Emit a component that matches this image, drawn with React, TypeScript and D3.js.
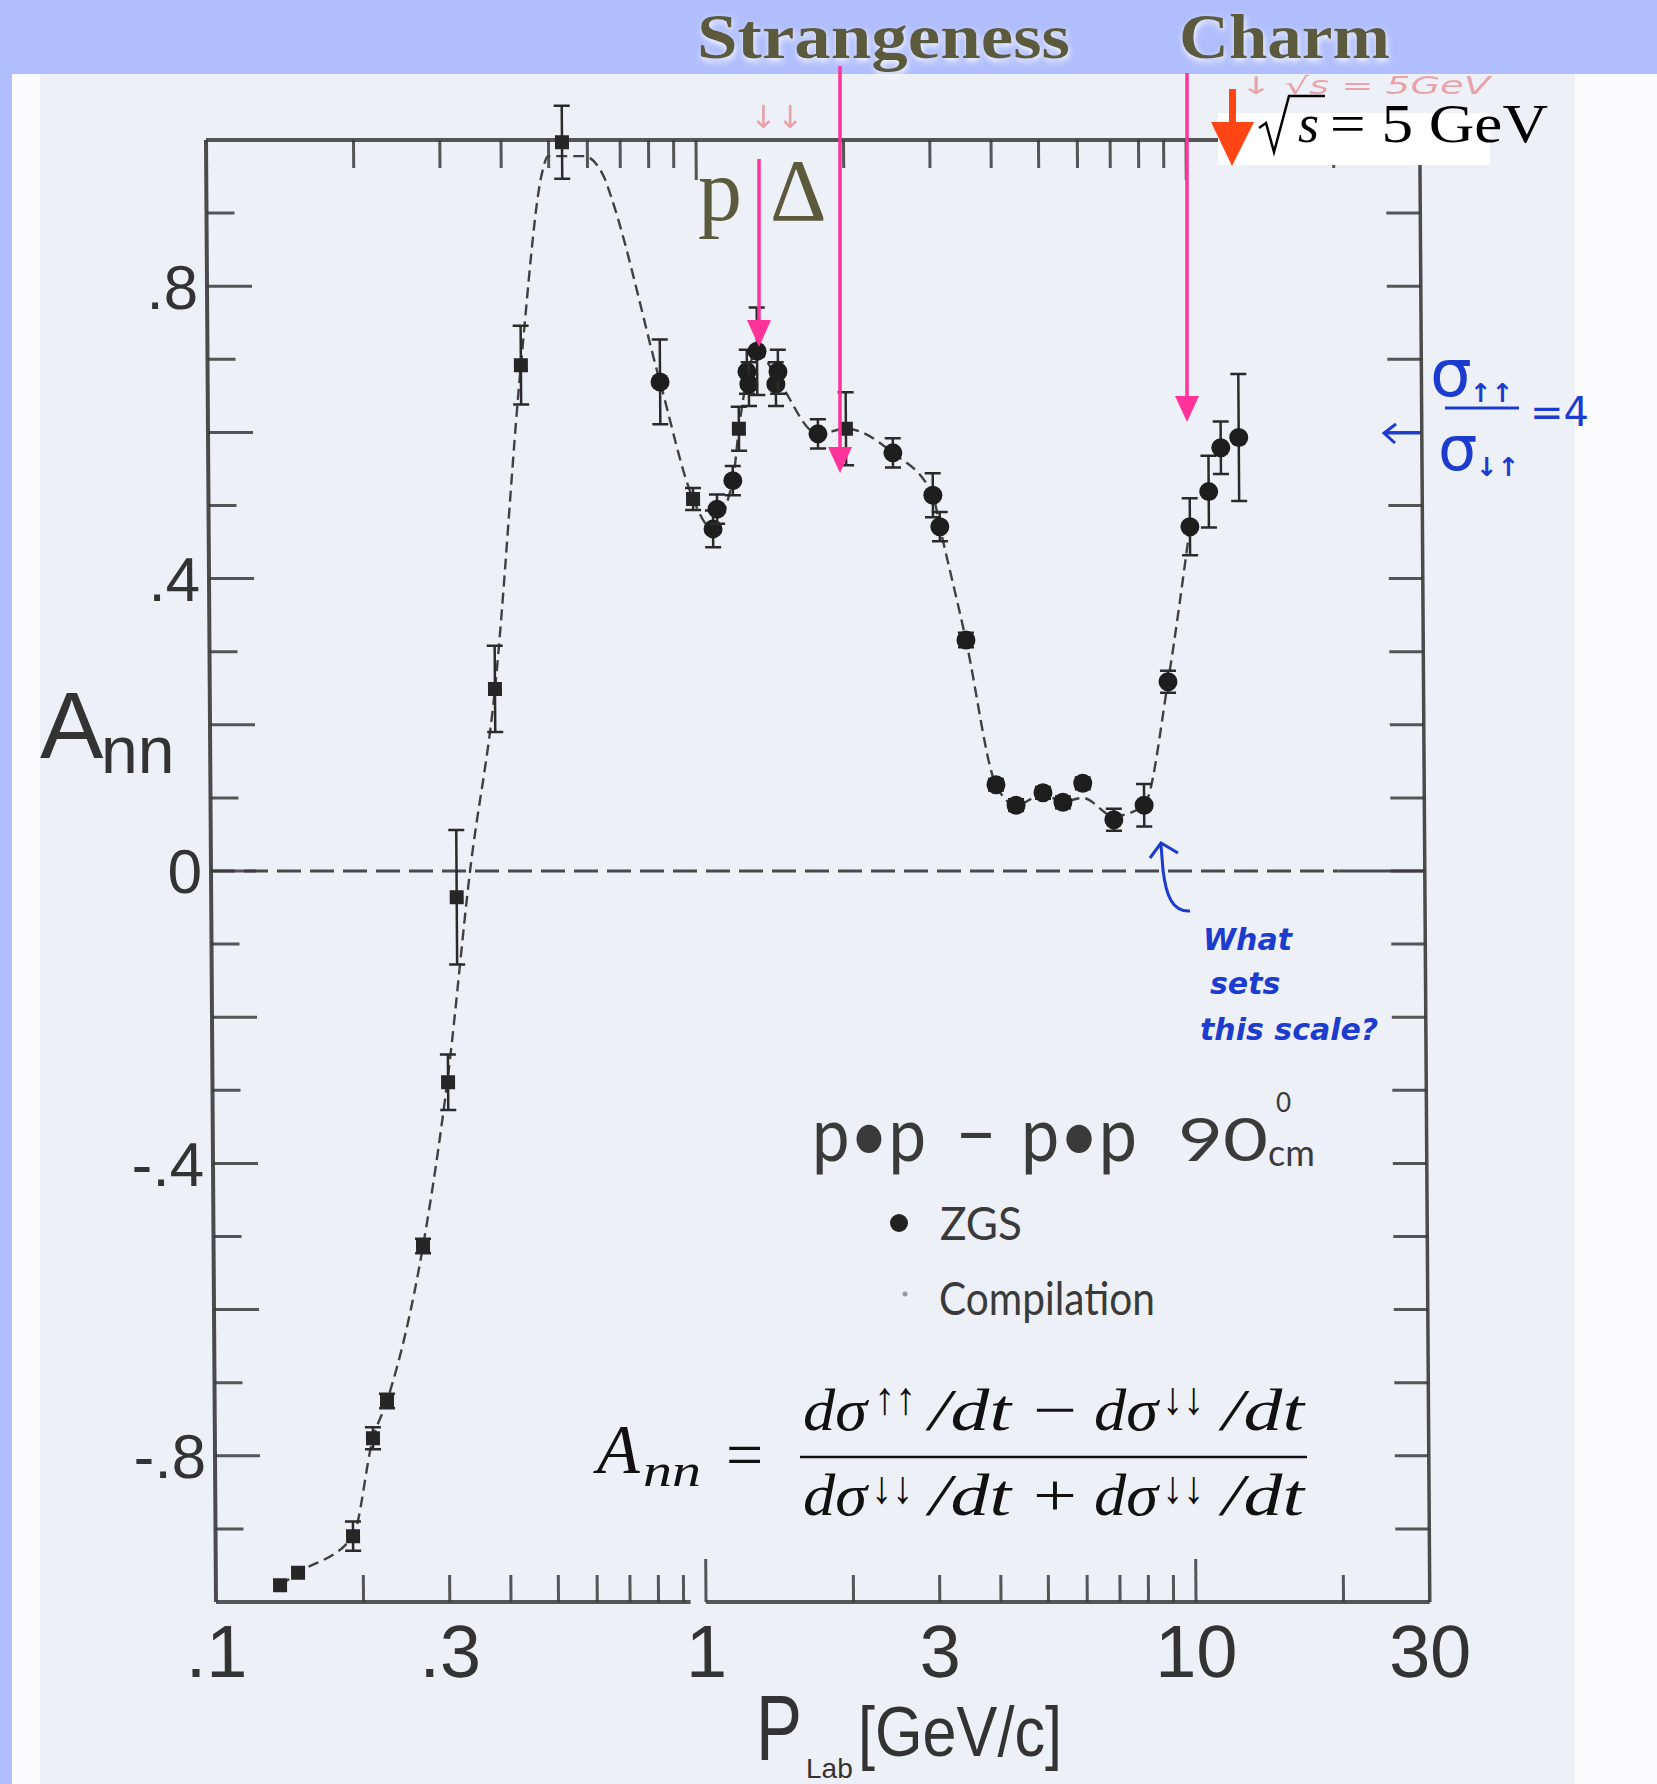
import React from "react";
import * as d3 from "d3";

// ---------------- data ----------------
// ZGS (filled circles): P_lab [GeV/c], A_nn, error
const zgsP = [0.838, 1.07, 1.091, 1.176, 1.261, 1.272, 1.323, 1.444, 1.459, 1.757, 2.497, 3.009, 3.106, 3.499, 4.01, 4.405, 5.0, 5.49, 6.03, 6.97, 8.04, 9.03, 10.06, 11.0, 11.66, 12.69];
const zgsA = [0.669, 0.468, 0.495, 0.534, 0.683, 0.666, 0.711, 0.666, 0.683, 0.598, 0.572, 0.514, 0.471, 0.316, 0.118, 0.09, 0.107, 0.094, 0.12, 0.07, 0.09, 0.259, 0.471, 0.519, 0.579, 0.593];
const zgsErr = [0.058, 0.025, 0.02, 0.02, 0.03, 0.03, 0.06, 0.03, 0.03, 0.02, 0.02, 0.03, 0.02, 0.01, 0.008, 0.008, 0.008, 0.008, 0.008, 0.015, 0.029, 0.015, 0.039, 0.049, 0.036, 0.087];

// Compilation (small squares)
const compP = [0.1352, 0.1472, 0.1908, 0.2102, 0.2248, 0.2676, 0.3026, 0.317, 0.382, 0.436, 0.5327, 0.975, 1.212, 2.004];
const compA = [-0.977, -0.96, -0.91, -0.776, -0.725, -0.513, -0.289, -0.036, 0.249, 0.692, 0.997, 0.509, 0.605, 0.605];
const compErr = [0, 0, 0.02, 0.015, 0.01, 0.01, 0.038, 0.092, 0.059, 0.054, 0.05, 0.015, 0.03, 0.05];

// dashed guide curve
const curveP = [0.1352, 0.1472, 0.1908, 0.2102, 0.2248, 0.2676, 0.3026, 0.3378, 0.382, 0.436, 0.485, 0.4987, 0.5905, 0.6486, 0.67, 0.838, 0.975, 1.06, 1.176, 1.212, 1.323, 1.45, 1.757, 2.004, 2.497, 3.009, 3.106, 3.499, 4.01, 4.405, 5.0, 5.49, 6.03, 6.97, 8.04, 9.03, 10.06];
const curveA = [-0.977, -0.96, -0.91, -0.776, -0.725, -0.513, -0.28, 0.0, 0.249, 0.692, 0.956, 0.978, 0.978, 0.949, 0.922, 0.669, 0.509, 0.47, 0.534, 0.605, 0.711, 0.675, 0.598, 0.605, 0.572, 0.514, 0.471, 0.316, 0.118, 0.09, 0.105, 0.095, 0.1, 0.075, 0.09, 0.259, 0.471];

const yTickVals = [-0.9, -0.8, -0.7, -0.6, -0.5, -0.4, -0.3, -0.2, -0.1, 0, 0.1, 0.2, 0.3, 0.4, 0.5, 0.6, 0.7, 0.8, 0.9];
const yLabelVals = [0.8, 0.4, 0, -0.4, -0.8];
const yLabelText = [".8", ".4", "0", "-.4", "-.8"];
const xMinorVals = [0.2, 0.3, 0.4, 0.5, 0.6, 0.7, 0.8, 0.9, 2, 3, 4, 5, 6, 7, 8, 9, 20];
const xMajorVals = [1, 10];
const xLabelVals = [0.1, 0.3, 1, 3, 10, 30];
const xLabelText = [".1", ".3", "1", "3", "10", "30"];

// ---------------- layout ----------------
const W = 1657;
const H = 1784;
const OX = 206;
const OY = 140;
const PH = 1462;
const DEC = 490;
const skewDeg = (Math.atan(10 / PH) * 180) / Math.PI;

const BLUE_BAND = "#b0befd";
const PAGE = "#eef0f7";
const INK = "#3a3a3a";
const PINK = "#ff3399";
const HAND = "#1c3ccf";
const OLIVE = "#5b5a3c";
const SERIF = "Liberation Serif, Times New Roman, serif";

export default function App() {
  const x = d3.scaleLog().domain([0.1, 30]).range([0, DEC * Math.log10(300)]);
  const y = d3.scaleLinear().domain([-1, 1]).range([PH, 0]);

  const curve = d3
    .line<number>()
    .x((_, i) => x(curveP[i]))
    .y((_, i) => y(curveA[i]))
    .curve(d3.curveMonotoneX)(curveA) as string;

  const xl = x(0.1);
  const xr = x(30);
  const yt = y(1);
  const yb = y(-1);

  return (
    <svg
      width={W}
      height={H}
      viewBox={`0 0 ${W} ${H}`}
      style={{ position: "absolute", left: 0, top: 0, display: "block" }}
      xmlns="http://www.w3.org/2000/svg"
    >
      <defs>
        <filter id="glow" x="-10%" y="-20%" width="120%" height="150%">
          <feGaussianBlur in="SourceAlpha" stdDeviation="3" result="b" />
          <feOffset in="b" dx="1" dy="3" result="bo" />
          <feFlood floodColor="#ffffff" floodOpacity="0.9" />
          <feComposite in2="bo" operator="in" result="g" />
          <feMerge>
            <feMergeNode in="g" />
            <feMergeNode in="SourceGraphic" />
          </feMerge>
        </filter>
      </defs>

      {/* backgrounds */}
      <rect x={0} y={0} width={W} height={H} fill="#fbfbfe" />
      <rect x={40} y={74} width={1535} height={H - 74} fill={PAGE} />
      <rect x={0} y={74} width={12} height={H - 74} fill={BLUE_BAND} />
      <rect x={0} y={0} width={W} height={74} fill={BLUE_BAND} />

      {/* scanned plot (slightly skewed) */}
      <g transform={`translate(${OX},${OY}) skewX(${skewDeg})`}>
        {/* zero line */}
        <line x1={xl} x2={x(20)} y1={y(0)} y2={y(0)} stroke="#4a4a4a" strokeWidth={3} strokeDasharray="24 9" />
        <line x1={x(20)} x2={xr} y1={y(0)} y2={y(0)} stroke="#4a4a4a" strokeWidth={3} />

        {/* frame */}
        <line x1={xl} x2={xr} y1={yt} y2={yt} stroke={INK} strokeWidth={4} opacity={0.85} />
        <line x1={xl} x2={x(0.93)} y1={yb} y2={yb} stroke={INK} strokeWidth={4} opacity={0.85} />
        <line x1={x(1)} x2={xr} y1={yb} y2={yb} stroke={INK} strokeWidth={4} opacity={0.85} />
        <line x1={xl} x2={xl} y1={yt} y2={yb} stroke={INK} strokeWidth={4} opacity={0.9} />
        <line x1={xr} x2={xr} y1={yt} y2={yb} stroke={INK} strokeWidth={3.5} opacity={0.9} />

        {/* y ticks */}
        {yTickVals.map((v) => {
          const even = Math.round(Math.abs(v) * 10) % 2 === 0;
          return (
            <g key={`yt${v}`}>
              <line x1={xl} x2={xl + (even ? 45 : 28)} y1={y(v)} y2={y(v)} stroke={INK} strokeWidth={3} opacity={0.85} />
              <line x1={xr} x2={xr - 34} y1={y(v)} y2={y(v)} stroke={INK} strokeWidth={3} opacity={0.85} />
            </g>
          );
        })}

        {/* x ticks */}
        {xMinorVals.map((v) => (
          <g key={`xm${v}`}>
            <line x1={x(v)} x2={x(v)} y1={yb} y2={yb - 27} stroke={INK} strokeWidth={3} opacity={0.85} />
            <line x1={x(v)} x2={x(v)} y1={yt} y2={yt + 28} stroke={INK} strokeWidth={3} opacity={0.85} />
          </g>
        ))}
        {xMajorVals.map((v) => (
          <g key={`xM${v}`}>
            <line x1={x(v)} x2={x(v)} y1={yb} y2={yb - 43} stroke={INK} strokeWidth={3} opacity={0.85} />
            <line x1={x(v)} x2={x(v)} y1={yt} y2={yt + 40} stroke={INK} strokeWidth={3} opacity={0.85} />
          </g>
        ))}

        {/* tick labels */}
        {yLabelVals.map((v, i) => (
          <text
            key={`yl${v}`}
            x={xl - 9}
            y={y(v)}
            dy="0.36em"
            textAnchor="end"
            fontFamily="Liberation Sans, Arial, sans-serif"
            fontSize={62}
            fill="#333"
          >
            {yLabelText[i]}
          </text>
        ))}
        {xLabelVals.map((v, i) => (
          <text
            key={`xl${v}`}
            x={x(v)}
            y={yb + 75}
            textAnchor="middle"
            fontFamily="Liberation Sans, Arial, sans-serif"
            fontSize={74}
            fill="#333"
          >
            {xLabelText[i]}
          </text>
        ))}

        {/* dashed curve */}
        <path d={curve} fill="none" stroke="#404040" strokeWidth={2.4} strokeDasharray="11 6" />

        {/* compilation points */}
        {compP.map((p, i) => (
          <g key={`c${i}`}>
            {compErr[i] > 0 && (
              <g stroke="#2a2a2a" strokeWidth={2.5}>
                <line x1={x(p)} x2={x(p)} y1={y(compA[i] - compErr[i])} y2={y(compA[i] + compErr[i])} />
                <line x1={x(p) - 8} x2={x(p) + 8} y1={y(compA[i] - compErr[i])} y2={y(compA[i] - compErr[i])} />
                <line x1={x(p) - 8} x2={x(p) + 8} y1={y(compA[i] + compErr[i])} y2={y(compA[i] + compErr[i])} />
              </g>
            )}
            <rect x={x(p) - 7} y={y(compA[i]) - 7} width={14} height={14} fill="#262626" />
          </g>
        ))}

        {/* ZGS points */}
        {zgsP.map((p, i) => (
          <g key={`z${i}`}>
            <g stroke="#2a2a2a" strokeWidth={2.5}>
              <line x1={x(p)} x2={x(p)} y1={y(zgsA[i] - zgsErr[i])} y2={y(zgsA[i] + zgsErr[i])} />
              <line x1={x(p) - 8} x2={x(p) + 8} y1={y(zgsA[i] - zgsErr[i])} y2={y(zgsA[i] - zgsErr[i])} />
              <line x1={x(p) - 8} x2={x(p) + 8} y1={y(zgsA[i] + zgsErr[i])} y2={y(zgsA[i] + zgsErr[i])} />
            </g>
            <circle cx={x(p)} cy={y(zgsA[i])} r={9.5} fill="#1e1e1e" />
          </g>
        ))}
      </g>

      {/* axis titles */}
      <g fontFamily="Liberation Sans, Arial, sans-serif" fill="#333">
        <text x={40} y={758} fontSize={95}>A</text>
        <text x={101} y={773} fontSize={66}>nn</text>
        <text x={756} y={1760} fontSize={92} textLength={46} lengthAdjust="spacingAndGlyphs">P</text>
        <text x={806} y={1778} fontSize={28}>Lab</text>
        <text x={858} y={1756} fontSize={70} textLength={204} lengthAdjust="spacingAndGlyphs">[GeV/c]</text>
      </g>

      {/* legend-like annotation from scan */}
      <g fontFamily="Lato, Open Sans, sans-serif" fill="#3a3a3a">
        <text x={812} y={1161} fontSize={75} textLength={114} lengthAdjust="spacingAndGlyphs">p•p</text>
        <text x={956} y={1161} fontSize={75} textLength={40} lengthAdjust="spacingAndGlyphs">−</text>
        <text x={1021} y={1161} fontSize={75} textLength={116} lengthAdjust="spacingAndGlyphs">p•p</text>
        <text x={1178} y={1161} fontSize={60} textLength={90} lengthAdjust="spacingAndGlyphs">90</text>
        <text x={1276} y={1112} fontSize={26}>0</text>
        <text x={1268} y={1166} fontSize={36}>cm</text>
        <circle cx={899} cy={1223} r={9} fill="#222" />
        <text x={940} y={1240} fontSize={46} textLength={82} lengthAdjust="spacingAndGlyphs">ZGS</text>
        <circle cx={905} cy={1294} r={2.5} fill="#999" />
        <text x={939} y={1315} fontSize={47} textLength={216} lengthAdjust="spacingAndGlyphs">Compilation</text>
      </g>

      {/* formula */}
      <g fontFamily={SERIF} fill="#111">
        <text x={597} y={1473} fontSize={70} fontStyle="italic">A</text>
        <text x={643} y={1486} fontSize={46} fontStyle="italic" textLength={58} lengthAdjust="spacingAndGlyphs">nn</text>
        <text x={726} y={1477} fontSize={66}>=</text>
        <line x1={800} x2={1307} y1={1457} y2={1457} stroke="#111" strokeWidth={2.5} />
        {/* numerator */}
        <text x={803} y={1430} fontSize={60} fontStyle="italic" textLength={64} lengthAdjust="spacingAndGlyphs">dσ</text>
        <text x={874} y={1414} fontSize={46} textLength={42} lengthAdjust="spacingAndGlyphs">↑↑</text>
        <text x={929} y={1430} fontSize={60} fontStyle="italic" textLength={82} lengthAdjust="spacingAndGlyphs">/dt</text>
        <text x={1033} y={1430} fontSize={60} textLength={44} lengthAdjust="spacingAndGlyphs">−</text>
        <text x={1094} y={1430} fontSize={60} fontStyle="italic" textLength={64} lengthAdjust="spacingAndGlyphs">dσ</text>
        <text x={1162} y={1414} fontSize={46} textLength={42} lengthAdjust="spacingAndGlyphs">↓↓</text>
        <text x={1222} y={1430} fontSize={60} fontStyle="italic" textLength={82} lengthAdjust="spacingAndGlyphs">/dt</text>
        {/* denominator */}
        <text x={803} y={1515} fontSize={60} fontStyle="italic" textLength={64} lengthAdjust="spacingAndGlyphs">dσ</text>
        <text x={871} y={1503} fontSize={46} textLength={42} lengthAdjust="spacingAndGlyphs">↓↓</text>
        <text x={929} y={1515} fontSize={60} fontStyle="italic" textLength={82} lengthAdjust="spacingAndGlyphs">/dt</text>
        <text x={1033} y={1515} fontSize={60} textLength={44} lengthAdjust="spacingAndGlyphs">+</text>
        <text x={1094} y={1515} fontSize={60} fontStyle="italic" textLength={64} lengthAdjust="spacingAndGlyphs">dσ</text>
        <text x={1162} y={1503} fontSize={46} textLength={42} lengthAdjust="spacingAndGlyphs">↓↓</text>
        <text x={1222} y={1515} fontSize={60} fontStyle="italic" textLength={82} lengthAdjust="spacingAndGlyphs">/dt</text>
      </g>

      {/* faint red handwriting */}
      <g fill="#e0484a" opacity={0.45} fontFamily="DejaVu Sans, sans-serif" fontStyle="italic">
        <text x={750} y={128} fontSize={32}>↓↓</text>
        <text x={1240} y={94} fontSize={24} textLength={250} lengthAdjust="spacingAndGlyphs">↓ √s = 5GeV</text>
      </g>

      {/* white box with sqrt s */}
      <rect x={1218} y={113} width={272} height={52} fill="#ffffff" />
      <g fontFamily={SERIF} fill="#000">
        <path d="M1259,128 L1266,123 L1274,152 L1289,96 L1325,96" fill="none" stroke="#000" strokeWidth={2.5} />
        <text x={1298} y={142} fontSize={54} fontStyle="italic">s</text>
        <text x={1330} y={142} fontSize={54} textLength={218} lengthAdjust="spacingAndGlyphs">= 5 GeV</text>
      </g>

      {/* red arrow */}
      <g fill="#ff4513" stroke="none">
        <rect x={1229} y={89} width={7} height={40} />
        <path d="M1211,122 L1254,122 L1232,166 Z" />
      </g>

      {/* pink arrows */}
      <g stroke={PINK} strokeWidth={3.5} fill={PINK}>
        <line x1={759} x2={759} y1={159} y2={330} />
        <path d="M747,320 L771,320 L759,347 Z" stroke="none" />
        <line x1={840} x2={840} y1={66} y2={455} />
        <path d="M828,447 L852,447 L840,473 Z" stroke="none" />
        <line x1={1187} x2={1187} y1={73} y2={405} />
        <path d="M1175,396 L1199,396 L1187,422 Z" stroke="none" />
      </g>

      {/* header labels */}
      <g fontFamily={SERIF} fontWeight="bold" fill={OLIVE} filter="url(#glow)">
        <text x={697} y={58} fontSize={64} textLength={373} lengthAdjust="spacingAndGlyphs">Strangeness</text>
        <text x={1179} y={58} fontSize={64} textLength={211} lengthAdjust="spacingAndGlyphs">Charm</text>
      </g>
      <g fontFamily={SERIF} fill={OLIVE}>
        <text x={698} y={220} fontSize={88}>p</text>
        <text x={770} y={220} fontSize={88}>Δ</text>
      </g>

      {/* blue handwriting */}
      <g fill={HAND} fontFamily="DejaVu Sans, sans-serif">
        <text x={1430} y={396} fontSize={66}>σ</text>
        <text x={1470} y={402} fontSize={26} fontWeight="bold">↑↑</text>
        <line x1={1445} x2={1519} y1={408} y2={408} stroke={HAND} strokeWidth={3} />
        <text x={1438} y={470} fontSize={62}>σ</text>
        <text x={1476} y={476} fontSize={26} fontWeight="bold">↓↑</text>
        <text x={1530} y={426} fontSize={40}>=4</text>
        <path d="M1420,433 L1385,433 M1396,424 L1384,433 L1395,443" fill="none" stroke={HAND} strokeWidth={3} />
        <path d="M1190,911 C1172,912 1166,895 1163,870 L1161,845 M1150,858 L1161,843 L1178,853" fill="none" stroke={HAND} strokeWidth={3} />
        <text x={1203} y={950} fontSize={30} fontStyle="italic" fontWeight="bold">What</text>
        <text x={1210} y={994} fontSize={30} fontStyle="italic" fontWeight="bold">sets</text>
        <text x={1200} y={1040} fontSize={30} fontStyle="italic" fontWeight="bold">this scale?</text>
      </g>
    </svg>
  );
}
